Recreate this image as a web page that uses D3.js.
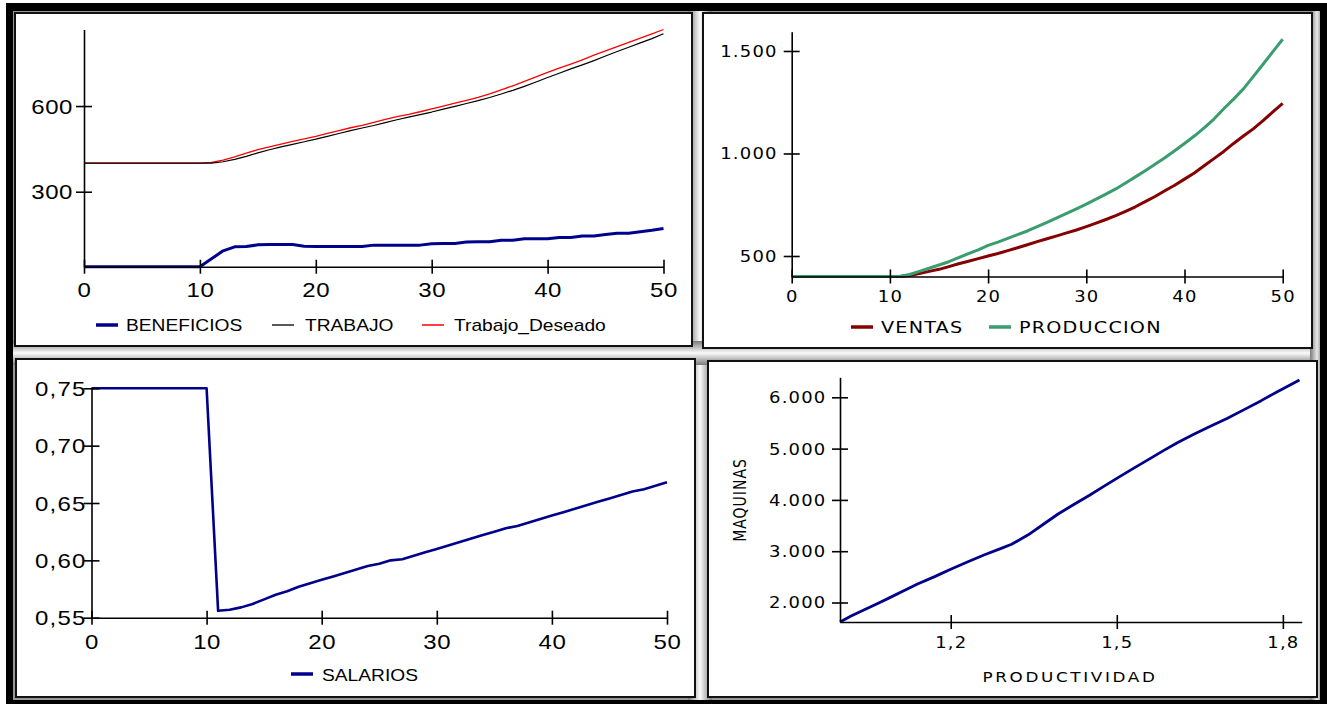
<!DOCTYPE html>
<html><head><meta charset="utf-8">
<script src="https://cdn.jsdelivr.net/npm/d3@7"></script>
<style>body{margin:0;background:#fff} svg{display:block}</style>
</head><body><svg id="c" width="1327" height="704"></svg>
<script>
// ---------------- DATA ----------------
const time = [0,1,2,3,4,5,6,7,8,9,10,11,12,13,14,15,16,17,18,19,20,21,22,23,24,25,26,27,28,29,30,31,32,33,34,35,36,37,38,39,40,41,42,43,44,45,46,47,48,49,50];
const timeTicks = [0,10,20,30,40,50];

const beneficios = [37.5,37.5,37.5,37.5,37.5,37.5,37.5,37.5,37.5,37.5,37.5,
  65,93,107,108,114,115,115,115,109,108,108,108,108,108,113,113,113,113,113,
  118,119,119,124,125,125,130,130,135,135,135,140,140,145,145,150,155,155,160,165,171];
const trabajo = [400,400,400,400,400,400,400,400,400,400,400,400,
  405,413,424,436,447,457,466,475,484,494,504,514,523,532,542,552,561,570,579,
  589,599,609,619,630,642,655,669,684,700,715,730,744,759,775,791,806,821,836,853];
const trabajoDeseado = [400,400,400,400,400,400,400,400,400,400,400,
  403,411,422,435,447,457,467,476,485,494,504,514,524,532,543,553,563,571,580,590,
  600,610,620,630,643,657,671,686,702,718,733,747,762,778,793,808,823,838,853,868];
const p1Ticks = [300,600];

const ventas = [400,400,400,400,400,400,400,400,400,400,400,400,
  405,415,425,435,448,462,474,487,500,
  512,526,540,555,570,584,598,613,627,643,
  660,678,697,718,740,765,790,818,845,875,
  905,940,975,1010,1049,1085,1120,1160,1203,1244];
const produccion = [400,400,400,400,400,400,400,400,400,400,400,400,
  410,425,440,456,472,492,512,530,552,
  568,586,604,622,643,664,686,708,730,753,
  777,802,827,856,886,916,947,979,1013,1049,
  1085,1125,1168,1218,1265,1315,1375,1435,1497,1557];
const p2Ticks = [500,1000,1500];

const salarios = [0.75,0.75,0.75,0.75,0.75,0.75,0.75,0.75,0.75,0.75,0.75,
  0.556,0.557,0.559,0.562,0.566,0.570,0.573,0.577,0.580,0.583,
  0.586,0.589,0.592,0.595,0.597,0.600,0.601,0.604,0.607,0.610,
  0.613,0.616,0.619,0.622,0.625,0.628,0.630,0.633,0.636,0.639,
  0.642,0.645,0.648,0.651,0.654,0.657,0.660,0.662,0.665,0.668];
const p3Ticks = [0.55,0.60,0.65,0.70,0.75];

const productividad = [1.0,1.02,1.044,1.07,1.09,1.117,1.14,1.17,1.2,1.23,1.26,1.29,1.31,1.34,1.37,1.394,1.42,1.45,1.475,1.5,1.53,1.56,1.585,1.611,1.64,1.67,1.7,1.73,1.76,1.79,1.83];
const maquinas = [1620,1735,1860,1990,2095,2240,2360,2500,2650,2790,2925,3050,3135,3320,3545,3725,3895,4085,4255,4420,4615,4805,4965,5125,5285,5440,5590,5760,5930,6110,6337];
const p4YTicks = [2000,3000,4000,5000,6000];
const p4XTicks = [1.2,1.5,1.8];

const legend1 = ["BENEFICIOS","TRABAJO","Trabajo_Deseado"];
const legend2 = ["VENTAS","PRODUCCION"];
const legend3 = ["SALARIOS"];
const xLabel4 = "PRODUCTIVIDAD", yLabel4 = "MAQUINAS";

// ---------------- SETUP ----------------
const es = d3.formatLocale({decimal:",", thousands:".", grouping:[3], currency:["","€"]});
const svg = d3.select("#c");
const SX = 1.2;
const ARIAL = "'Liberation Sans', Arial, sans-serif";
const VERD = "'DejaVu Sans', Verdana, sans-serif";

const defs = svg.append("defs");
function grad(id, x2, y2, stops){
  const g = defs.append("linearGradient").attr("id",id).attr("x1",0).attr("y1",0).attr("x2",x2).attr("y2",y2);
  stops.forEach(s=>g.append("stop").attr("offset",s[0]).attr("stop-color",s[1]));
}
grad("gv",1,0,[[0,"#7a7a7a"],[0.5,"#fbfbfb"],[1,"#7a7a7a"]]);
grad("gh",0,1,[[0,"#7a7a7a"],[0.5,"#fbfbfb"],[1,"#7a7a7a"]]);
grad("gr",1,0,[[0,"#7a7a7a"],[0.7,"#e8e8e8"],[1,"#aaaaaa"]]);

// frame
svg.append("rect").attr("x",6).attr("y",3).attr("width",1321).attr("height",701).attr("fill","#000");
svg.append("rect").attr("x",13).attr("y",11).attr("width",1307).attr("height",689).attr("fill","#999");
svg.append("rect").attr("x",688).attr("y",11).attr("width",24).attr("height",689).attr("fill","url(#gv)");
svg.append("rect").attr("x",13).attr("y",341).attr("width",1307).attr("height",24).attr("fill","url(#gh)");
svg.append("rect").attr("x",1310).attr("y",11).attr("width",10).attr("height",689).attr("fill","url(#gr)");

const panels = [[15,13,677,333],[703,13,609,335],[16,359,679,338],[708,361,609,336]];
svg.selectAll("rect.panel").data(panels).enter().append("rect").attr("class","panel")
  .attr("x",d=>d[0]).attr("y",d=>d[1]).attr("width",d=>d[2]).attr("height",d=>d[3])
  .attr("fill","#fff").attr("stroke","#111").attr("stroke-width",2);

function leftAxis(y, x0, ticks, fmt, font, size, off, ls){
  const g = svg.append("g").attr("transform",`translate(${x0},0)`)
    .call(d3.axisLeft(y).tickValues(ticks).tickFormat(fmt).tickSizeInner(8).tickSizeOuter(0));
  g.select(".domain").attr("stroke","#000").attr("stroke-width",1.6);
  g.selectAll(".tick line").attr("x1",8).attr("x2",-8).attr("stroke","#000").attr("stroke-width",1.6);
  g.selectAll(".tick text").attr("x",-off/SX).attr("dy","0.36em").attr("transform",`scale(${SX},1)`)
    .attr("fill","#000").style("font-family",font).style("font-size",size+"px").style("letter-spacing",ls+"px");
  return g;
}
function bottomAxis(x, y0, ticks, fmt, font, size, off, ls){
  const g = svg.append("g").attr("transform",`translate(0,${y0})`)
    .call(d3.axisBottom(x).tickValues(ticks).tickFormat(fmt).tickSizeInner(7).tickSizeOuter(0));
  g.select(".domain").attr("stroke","#000").attr("stroke-width",1.6);
  g.selectAll(".tick line").attr("y1",-7).attr("y2",7).attr("stroke","#000").attr("stroke-width",1.6);
  g.selectAll(".tick text").attr("y",off).attr("dy",0).attr("transform",`scale(${SX},1)`)
    .attr("fill","#000").style("font-family",font).style("font-size",size+"px").style("letter-spacing",ls+"px");
  return g;
}
function stext(x, y, txt, font, size, ls, anchor){
  svg.append("text").attr("transform",`translate(${x},${y}) scale(${SX},1)`)
    .attr("text-anchor",anchor||"start").attr("fill","#000")
    .style("font-family",font).style("font-size",size+"px").style("letter-spacing",ls+"px").text(txt);
}
function legend(items, colors, widths, lx, tx, ly, ty, font, size, ls){
  items.forEach((t,i)=>{
    svg.append("line").attr("x1",lx[i]).attr("x2",lx[i]+22).attr("y1",ly).attr("y2",ly)
      .attr("stroke",colors[i]).attr("stroke-width",widths[i]);
    stext(tx[i], ty, t, font, size, ls);
  });
}
function series(xs, ys, x, y, color, w){
  const pts = xs.map((d,i)=>[d, ys[i]]);
  svg.append("path").datum(pts).attr("fill","none").attr("stroke",color).attr("stroke-width",w)
    .attr("stroke-linejoin","round")
    .attr("d", d3.line().x(d=>x(d[0])).y(d=>y(d[1])));
}

// ---------------- PANEL 1 ----------------
{
  const x = d3.scaleLinear().domain([0,50]).range([84,663.5]);
  const y = d3.scaleLinear().domain([37.5,868]).range([266.7,29.5]);
  series(time, trabajoDeseado, x, y, "#ff0000", 1.3);
  series(time, trabajo, x, y, "#000000", 1.2);
  series(time, beneficios, x, y, "#00008b", 3);
  leftAxis(y, 84, p1Ticks, es.format("d"), ARIAL, 20, 11, 0.5);
  bottomAxis(x, 266.7, timeTicks, es.format("d"), ARIAL, 20, 30.5, 0.5);
  legend(legend1, ["#00008b","#000","#ff0000"], [3.5,1.3,1.5], [96,272,422], [126,305,454], 325, 331, ARIAL, 16, 0);
}
// ---------------- PANEL 2 ----------------
{
  const x = d3.scaleLinear().domain([0,50]).range([791.7,1282.7]);
  const y = d3.scaleLinear().domain([400,1594]).range([276.5,31.7]);
  series(time, ventas, x, y, "#850000", 3);
  series(time, produccion, x, y, "#3a9d6e", 3);
  leftAxis(y, 791.7, p2Ticks, es.format(",d"), VERD, 15, 14, 1);
  bottomAxis(x, 276.5, timeTicks, es.format("d"), VERD, 15, 26, 1);
  legend(legend2, ["#850000","#3a9d6e"], [3.5,3.5], [851,989], [881,1019], 327, 333, VERD, 16, 1);
}
// ---------------- PANEL 3 ----------------
{
  const x = d3.scaleLinear().domain([0,50]).range([91.5,667]);
  const y = d3.scaleLinear().domain([0.55,0.75]).range([617.7,388.3]);
  series(time, salarios, x, y, "#00008b", 2.6);
  leftAxis(y, 91.5, p3Ticks, es.format(".2f"), ARIAL, 20, 5, 1);
  bottomAxis(x, 617.7, timeTicks, es.format("d"), ARIAL, 20, 31, 0.5);
  legend(legend3, ["#00008b"], [3.5], [291], [322], 674, 681, ARIAL, 16, 0);
}
// ---------------- PANEL 4 ----------------
{
  const x = d3.scaleLinear().domain([1.0,1.834]).range([840,1301.7]);
  const y = d3.scaleLinear().domain([1620,6390]).range([622,377.3]);
  series(productividad, maquinas, x, y, "#00008b", 2.8);
  leftAxis(y, 840, p4YTicks, es.format(",d"), VERD, 15, 13.5, 1);
  bottomAxis(x, 622, p4XTicks, es.format(".1f"), VERD, 15, 26.5, 1);
  stext(1070, 682, xLabel4, VERD, 14, 2.2, "middle");
  svg.append("text").attr("transform",`translate(746,500) scale(${SX},1) rotate(-90)`)
    .attr("text-anchor","middle").attr("fill","#000")
    .style("font-family",VERD).style("font-size","14px").style("letter-spacing","1px").text(yLabel4);
}
</script></body></html>
